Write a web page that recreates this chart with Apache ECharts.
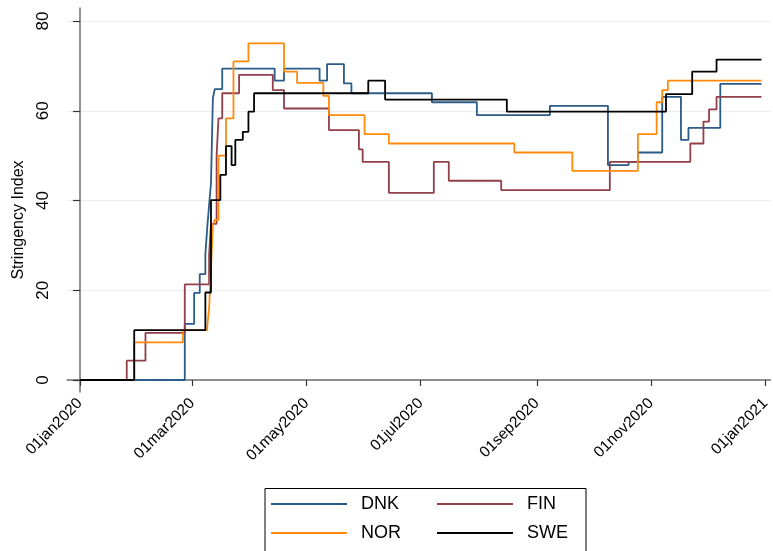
<!DOCTYPE html>
<html>
<head>
<meta charset="utf-8">
<script src="https://cdn.jsdelivr.net/npm/echarts@6/dist/echarts.min.js"></script>
<style>
  html, body { margin: 0; padding: 0; background: #fff; }
  #chart { width: 773px; height: 551px; }
</style>
</head>
<body>
<div id="chart"></div>
<script>
// Stringency index, daily, 2020 — change points (value holds until next date)
const dnkDates = ['2020-01-01','2020-02-26','2020-03-02','2020-03-05','2020-03-08','2020-03-09','2020-03-10','2020-03-11','2020-03-12','2020-03-13','2020-03-17','2020-04-14','2020-04-19','2020-05-08','2020-05-12','2020-05-21','2020-05-25','2020-07-07','2020-07-31','2020-09-08','2020-10-09','2020-10-20','2020-10-25','2020-11-07','2020-11-17','2020-11-21','2020-12-08','2020-12-30'];
const dnkValues = [0, 12.5, 19.4, 23.6, 28, 34, 39, 43.9, 62.8, 64.8, 69.4, 66.7, 69.4, 66.7, 70.4, 66.1, 63.9, 61.9, 59.05, 61.1, 47.9, 48.6, 50.7, 63.1, 53.5, 56.2, 66.0, 66.0];

const finDates = ['2020-01-01','2020-01-26','2020-02-05','2020-02-26','2020-03-10','2020-03-11','2020-03-14','2020-03-15','2020-03-17','2020-03-26','2020-04-13','2020-04-19','2020-05-13','2020-05-29','2020-05-31','2020-06-14','2020-07-08','2020-07-16','2020-08-13','2020-10-10','2020-11-22','2020-11-29','2020-12-02','2020-12-06','2020-12-30'];
const finValues = [0, 4.3, 10.5, 21.3, 28, 34.8, 50, 58.3, 63.9, 68.0, 64.6, 60.5, 55.7, 51.4, 48.6, 41.7, 48.6, 44.4, 42.3, 48.6, 52.7, 57.6, 60.3, 63.1, 63.1];

const norDates = ['2020-01-01','2020-01-30','2020-02-25','2020-03-09','2020-03-10','2020-03-11','2020-03-12','2020-03-13','2020-03-15','2020-03-19','2020-03-23','2020-03-31','2020-04-19','2020-04-26','2020-05-10','2020-05-13','2020-06-01','2020-06-14','2020-08-20','2020-09-20','2020-10-25','2020-11-04','2020-11-07','2020-11-10','2020-12-30'];
const norValues = [0, 8.4, 11.1, 12, 16, 25, 34.3, 35.7, 50, 58.3, 71.0, 75.0, 68.7, 66.2, 63.3, 59.05, 54.8, 52.7, 50.7, 46.6, 54.8, 61.9, 64.6, 66.7, 66.7];

const sweDates = ['2020-01-01','2020-01-30','2020-03-08','2020-03-11','2020-03-16','2020-03-19','2020-03-22','2020-03-24','2020-03-28','2020-03-31','2020-04-03','2020-06-03','2020-06-12','2020-08-16','2020-11-09','2020-11-23','2020-12-06','2020-12-30'];
const sweValues = [0, 11.1, 19.5, 40.1, 45.7, 52.1, 47.9, 53.5, 55.3, 59.8, 63.9, 66.7, 62.5, 59.8, 63.7, 68.7, 71.4, 71.4];

// Axis ticks
const xTickDates = ['2020-01-01','2020-03-01','2020-05-01','2020-07-01','2020-09-01','2020-11-01','2021-01-01'];
const xTickLabels = ['01jan2020','01mar2020','01may2020','01jul2020','01sep2020','01nov2020','01jan2021'];
const yTickValues = [0, 20, 40, 60, 80];

const seriesNames = ['DNK', 'FIN', 'NOR', 'SWE'];
const seriesColors = ['#2b5b88', '#923f49', '#ff8a0c', '#000000'];

const FONT = '"Liberation Sans", Arial, Helvetica, sans-serif';

// Dates are placed on a day-number axis counted from 1 Jan 2020
const ORIGIN = Date.UTC(2020, 0, 1);
function dayNum(s) {
  const p = s.split('-').map(Number);
  return Math.round((Date.UTC(p[0], p[1] - 1, p[2]) - ORIGIN) / 86400000);
}
function pairs(dates, values) {
  return dates.map((d, i) => [dayNum(d), values[i]]);
}

const xTickDays = xTickDates.map(dayNum);

const allData = [
  pairs(dnkDates, dnkValues),
  pairs(finDates, finValues),
  pairs(norDates, norValues),
  pairs(sweDates, sweValues)
];

const chart = echarts.init(document.getElementById('chart'), null, { renderer: 'canvas' });

const legendText = { fontFamily: FONT, fontSize: 18, color: '#000', padding: [0, 0, 0, 9], lineHeight: 20 };

chart.setOption({
  backgroundColor: '#ffffff',
  animation: false,
  grid: { left: 67, right: 0, top: 8, bottom: 159, containLabel: false },
  xAxis: {
    type: 'value',
    min: -6.9,
    max: 368.8,
    axisLine: { show: true, lineStyle: { color: '#6e6e6e', width: 1.5 } },
    axisTick: { show: true, length: 6, customValues: xTickDays, lineStyle: { color: '#333', width: 1.2 } },
    axisLabel: {
      customValues: xTickDays,
      rotate: 45,
      margin: 9,
      fontFamily: FONT,
      fontSize: 15.5,
      color: '#000',
      formatter: function (v) {
        const i = xTickDays.indexOf(Math.round(v));
        return i >= 0 ? xTickLabels[i] : '';
      }
    },
    splitLine: { show: false }
  },
  yAxis: {
    type: 'value',
    min: -2.67,
    max: 82.9,
    name: 'Stringency Index',
    nameLocation: 'middle',
    nameGap: 40,
    nameTextStyle: { fontFamily: FONT, fontSize: 16, color: '#000', padding: [0, 40, 0, 0] },
    axisLine: { show: true, lineStyle: { color: '#6e6e6e', width: 1.5 } },
    axisTick: { show: true, length: 7, customValues: yTickValues, lineStyle: { color: '#333', width: 1.2 } },
    axisLabel: {
      customValues: yTickValues,
      rotate: 90,
      margin: 15,
      fontFamily: FONT,
      fontSize: 17,
      color: '#000'
    },
    splitLine: { show: true, lineStyle: { color: '#e9eff1', width: 1.2 } }
  },
  legend: [
    {
      data: ['DNK', 'NOR'],
      orient: 'vertical',
      left: 271, top: 494,
      padding: 0,
      itemWidth: 76, itemHeight: 2, itemGap: 9,
      icon: 'rect',
      textStyle: legendText
    },
    {
      data: ['FIN', 'SWE'],
      orient: 'vertical',
      left: 437, top: 494,
      padding: 0,
      itemWidth: 76, itemHeight: 2, itemGap: 9,
      icon: 'rect',
      textStyle: legendText
    }
  ],
  graphic: [
    {
      type: 'rect',
      left: 262.5, top: 486,
      shape: { width: 321, height: 80 },
      style: { fill: 'none', stroke: '#000', lineWidth: 1 },
      silent: true
    }
  ],
  series: seriesNames.map((name, i) => ({
    name: name,
    type: 'line',
    step: 'end',
    data: allData[i],
    showSymbol: false,
    symbol: 'none',
    lineStyle: { color: seriesColors[i], width: 1.8 },
    itemStyle: { color: seriesColors[i] },
    z: 2 + i
  }))
});
</script>
</body>
</html>
